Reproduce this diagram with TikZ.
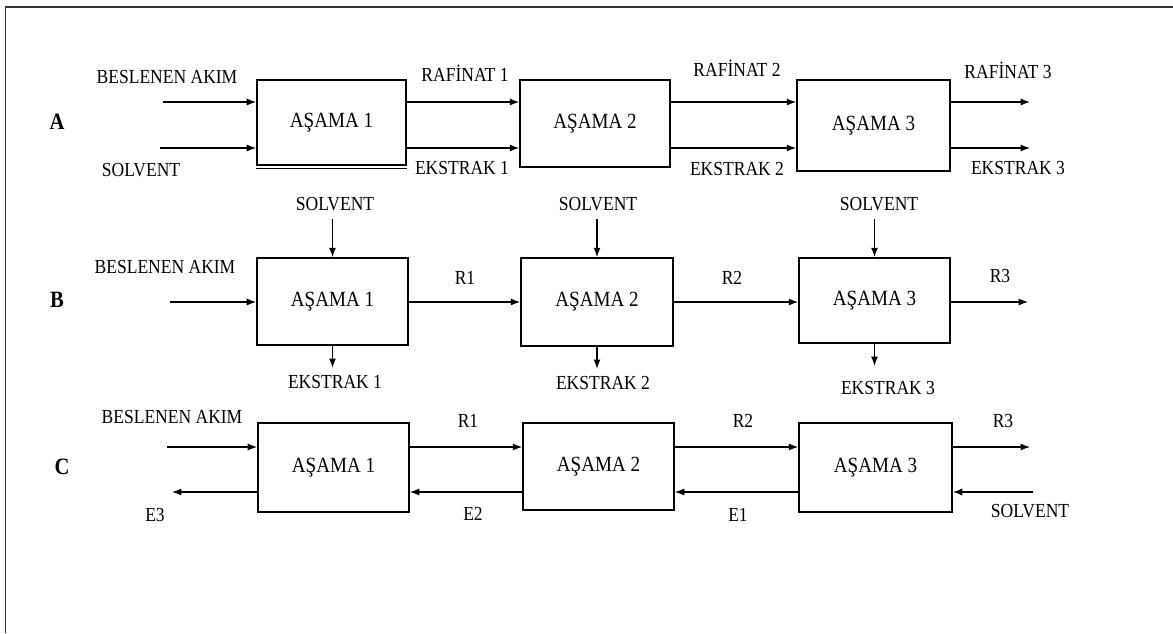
\documentclass[tikz,border=0pt]{standalone}
\usepackage{fontspec}
\setmainfont{Liberation Serif}[FakeStretch=0.88]
\usetikzlibrary{arrows.meta,calc}
\begin{document}
\begin{tikzpicture}[x=0.03cm,y=-0.03cm,
  stage/.style={draw, line width=1.5pt, inner sep=0pt, font=\fontsize{18.5}{20}\selectfont},
  flow/.style={-{Latex[length=8pt,width=6pt]}, line width=1pt},
  lbl/.style={inner sep=0pt, font=\fontsize{17}{19}\selectfont},
  rowlbl/.style={inner sep=0pt, font=\bfseries\fontsize{20}{22}\selectfont}]
\useasboundingbox (0,0) rectangle (1173,633);
\draw[line width=1.2pt, black!80] (5.5,633) -- (5.5,7) -- (1173,7);

% ---------------- Row A ----------------
\node[rowlbl] (LA) at (57,122) {A};
\node[stage, minimum width=4.47cm, minimum height=2.55cm] (A1) at (331.5,122.5) {AŞAMA 1};
\draw[line width=1pt] ($(A1.south west)+(0,3)$) -- ($(A1.south east)+(0,3)$);
\node[stage, minimum width=4.5cm, minimum height=2.61cm] (A2) at (595,123.5) {AŞAMA 2};
\node[stage, minimum width=4.59cm, minimum height=2.73cm] (A3) at (873.5,125.5) {AŞAMA 3};
\coordinate (fA) at (163,102);
\coordinate (sA) at (160,148);
\coordinate (r3A) at (1030,102);
\coordinate (e3A) at (1030,148);
\draw[flow] (fA) -- (A1.west |- fA);
\draw[flow] (sA) -- (A1.west |- sA);
\draw[flow] (A1.east |- fA) -- (A2.west |- fA);
\draw[flow] (A1.east |- sA) -- (A2.west |- sA);
\draw[flow] (A2.east |- fA) -- (A3.west |- fA);
\draw[flow] (A2.east |- sA) -- (A3.west |- sA);
\draw[flow] (A3.east |- r3A) -- (r3A);
\draw[flow] (A3.east |- e3A) -- (e3A);
\node[lbl] (tA1) at (167,77) {BESLENEN AKIM};
\node[lbl] (tA2) at (141,170) {SOLVENT};
\node[lbl] (tA3) at (465,73) {RAFİNAT 1};
\node[lbl] (tA4) at (462,168) {EKSTRAK 1};
\node[lbl] (tA5) at (737,68) {RAFİNAT 2};
\node[lbl] (tA6) at (737,169) {EKSTRAK 2};
\node[lbl] (tA7) at (1008,70) {RAFİNAT 3};
\node[lbl] (tA8) at (1018,168) {EKSTRAK 3};

% ---------------- Row B ----------------
\node[rowlbl] (LB) at (57,300) {B};
\node[stage, minimum width=4.53cm, minimum height=2.61cm] (B1) at (332.5,301.5) {AŞAMA 1};
\node[stage, minimum width=4.56cm, minimum height=2.64cm] (B2) at (597,302) {AŞAMA 2};
\node[stage, minimum width=4.53cm, minimum height=2.55cm] (B3) at (874.5,300.5) {AŞAMA 3};
\coordinate (fB) at (170,302);
\coordinate (r3B) at (1028,302);
\draw[flow] (fB) -- (B1.west |- fB);
\draw[flow] (B1.east |- fB) -- (B2.west |- fB);
\draw[flow] (B2.east |- fB) -- (B3.west |- fB);
\draw[flow] (B3.east |- r3B) -- (r3B);
\foreach \b in {1,2,3}{
  \coordinate (sB\b) at ($(B\b.north)+(0,-38)$);
  \coordinate (eB\b) at ($(B\b.south)+(0,22)$);
  \draw[flow] (sB\b) -- (B\b.north);
  \draw[flow] (B\b.south) -- (eB\b);
}
\node[lbl] (tB1) at (165,267) {BESLENEN AKIM};
\node[lbl] (tB2) at (335,204) {SOLVENT};
\node[lbl] (tB3) at (598,204) {SOLVENT};
\node[lbl] (tB4) at (879,204) {SOLVENT};
\node[lbl] (tB5) at (335,382) {EKSTRAK 1};
\node[lbl] (tB6) at (603,383) {EKSTRAK 2};
\node[lbl] (tB7) at (888,388) {EKSTRAK 3};
\node[lbl] (tB8) at (465,278) {R1};
\node[lbl] (tB9) at (732,278) {R2};
\node[lbl] (tB10) at (1000,276) {R3};

% ---------------- Row C ----------------
\node[rowlbl] (LC) at (62,467) {C};
\node[stage, minimum width=4.53cm, minimum height=2.67cm] (C1) at (333.5,467.5) {AŞAMA 1};
\node[stage, minimum width=4.53cm, minimum height=2.61cm] (C2) at (598.5,466.5) {AŞAMA 2};
\node[stage, minimum width=4.59cm, minimum height=2.67cm] (C3) at (875.5,467.5) {AŞAMA 3};
\coordinate (fC) at (167,447);
\coordinate (e3C) at (172,492);
\coordinate (r3C) at (1030,447);
\coordinate (sC) at (1033,492);
\draw[flow] (fC) -- (C1.west |- fC);
\draw[flow] (C1.east |- fC) -- (C2.west |- fC);
\draw[flow] (C2.east |- fC) -- (C3.west |- fC);
\draw[flow] (C3.east |- r3C) -- (r3C);
\draw[flow] (sC) -- (C3.east |- sC);
\draw[flow] (C3.west |- sC) -- (C2.east |- sC);
\draw[flow] (C2.west |- sC) -- (C1.east |- sC);
\draw[flow] (C1.west |- e3C) -- (e3C);
\node[lbl] (tC1) at (172,417) {BESLENEN AKIM};
\node[lbl] (tC2) at (155,515) {E3};
\node[lbl] (tC3) at (468,421) {R1};
\node[lbl] (tC4) at (743,421) {R2};
\node[lbl] (tC5) at (1003,421) {R3};
\node[lbl] (tC6) at (473,514) {E2};
\node[lbl] (tC7) at (738,515) {E1};
\node[lbl] (tC8) at (1030,511) {SOLVENT};
\end{tikzpicture}
\end{document}
